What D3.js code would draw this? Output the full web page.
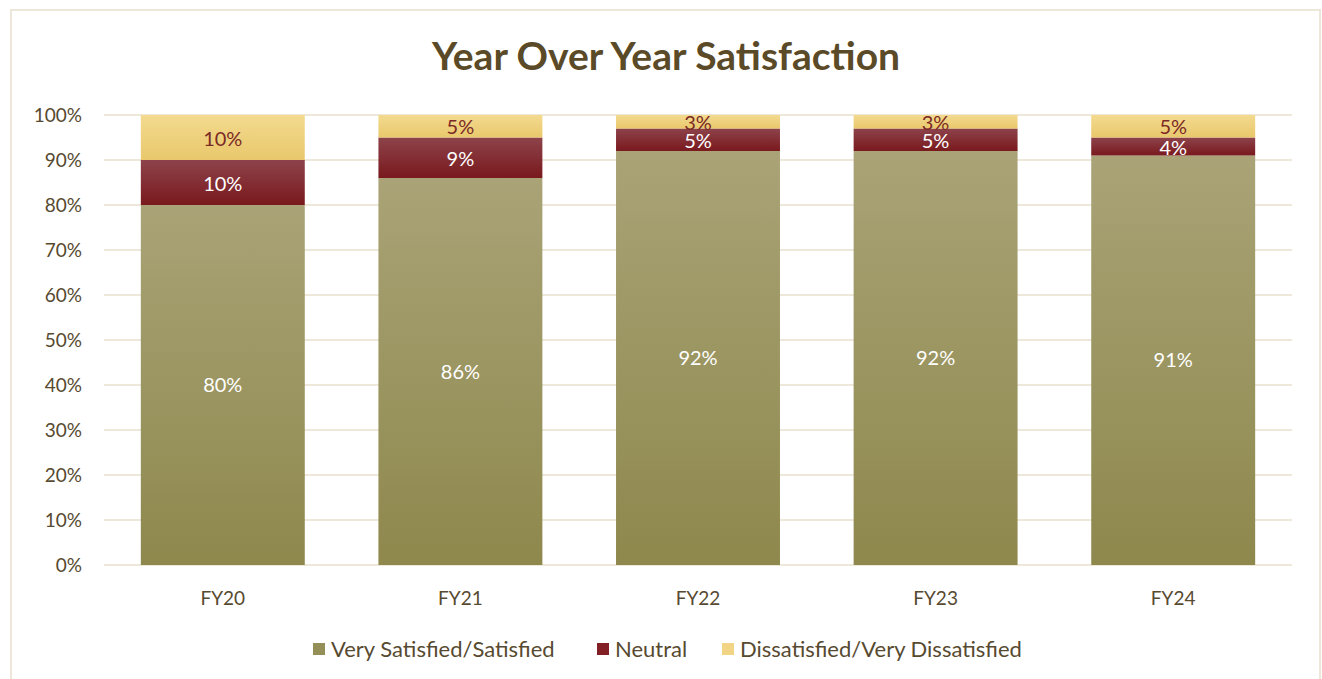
<!DOCTYPE html>
<html>
<head>
<meta charset="utf-8">
<script src="https://cdn.jsdelivr.net/npm/d3@7"></script>
<style>
  body { margin: 0; background: #fff; }
  svg text { font-family: Lato, "Open Sans", sans-serif; }
</style>
</head>
<body>
<div id="chart"></div>
<script>
const years = ["FY20", "FY21", "FY22", "FY23", "FY24"];
const satisfied = [80, 86, 92, 92, 91];
const neutral = [10, 9, 5, 5, 4];
const dissatisfied = [10, 5, 3, 3, 5];
const seriesNames = ["Very Satisfied/Satisfied", "Neutral", "Dissatisfied/Very Dissatisfied"];
const yTicks = [0, 10, 20, 30, 40, 50, 60, 70, 80, 90, 100];

const W = 1322, H = 679;
const margin = { top: 115, right: 30, bottom: 114, left: 104 };
const width = 1292 - margin.left;
const height = 565 - margin.top;

const svg = d3.select("#chart").append("svg")
  .attr("width", W)
  .attr("height", H);

// gradients
const defs = svg.append("defs");
function grad(id, top, bottom) {
  const g = defs.append("linearGradient").attr("id", id)
    .attr("x1", 0).attr("y1", 0).attr("x2", 0).attr("y2", 1);
  g.append("stop").attr("offset", "0%").attr("stop-color", top);
  g.append("stop").attr("offset", "100%").attr("stop-color", bottom);
}
grad("gSat", "#a9a377", "#8e884d");
grad("gNeu", "#8d434b", "#79191d");
grad("gDis", "#f3da8f", "#e9c86c");
const fills = ["url(#gSat)", "url(#gNeu)", "url(#gDis)"];
const swatch = ["#948e57", "#821f24", "#f1d585"];

// outer frame
svg.append("rect")
  .attr("x", 11).attr("y", 10)
  .attr("width", 1309).attr("height", 680)
  .attr("fill", "none")
  .attr("stroke", "#ede7d9")
  .attr("stroke-width", 2);

svg.append("text")
  .attr("x", 666).attr("y", 70)
  .attr("text-anchor", "middle")
  .style("font-size", "39px")
  .style("font-weight", "bold")
  .style("fill", "#5b4a27")
  .text("Year Over Year Satisfaction");

const g = svg.append("g")
  .attr("transform", "translate(" + margin.left + "," + margin.top + ")");

const x = d3.scaleBand()
  .domain(years)
  .range([0, width])
  .paddingInner(0.31)
  .paddingOuter(0.155);

const y = d3.scaleLinear()
  .domain([0, 100])
  .range([height, 0]);

// gridlines
g.append("g")
  .selectAll("line")
  .data(yTicks)
  .join("line")
  .attr("x1", 0).attr("x2", width)
  .attr("y1", d => y(d)).attr("y2", d => y(d))
  .attr("stroke", "#ede8da")
  .attr("stroke-width", 2);

// y tick labels
g.append("g")
  .selectAll("text")
  .data(yTicks)
  .join("text")
  .attr("x", -22)
  .attr("y", d => y(d))
  .attr("dy", "0.35em")
  .attr("text-anchor", "end")
  .style("font-size", "19px")
  .style("fill", "#574a30")
  .text(d => d + "%");

// stacked data
const rows = years.map((yr, i) => ({
  year: yr, s0: satisfied[i], s1: neutral[i], s2: dissatisfied[i]
}));
const stack = d3.stack().keys(["s0", "s1", "s2"]);
const layers = stack(rows);

const labelColors = ["#ffffff", "#ffffff", "#7b2a25"];

layers.forEach((layer, li) => {
  const lg = g.append("g");
  lg.selectAll("rect")
    .data(layer)
    .join("rect")
    .attr("x", d => x(d.data.year))
    .attr("width", x.bandwidth())
    .attr("y", d => y(d[1]))
    .attr("height", d => y(d[0]) - y(d[1]))
    .attr("fill", fills[li]);

  lg.selectAll("text")
    .data(layer)
    .join("text")
    .attr("x", d => x(d.data.year) + x.bandwidth() / 2)
    .attr("y", d => (y(d[0]) + y(d[1])) / 2 + (li === 0 ? 0 : 1))
    .attr("dy", "0.35em")
    .attr("text-anchor", "middle")
    .style("font-size", "20px")
    .style("fill", labelColors[li])
    .text(d => Math.round(d[1] - d[0]) + "%");
});

// x labels
g.append("g")
  .selectAll("text")
  .data(years)
  .join("text")
  .attr("x", d => x(d) + x.bandwidth() / 2)
  .attr("y", height + 33)
  .attr("dy", "0.35em")
  .attr("text-anchor", "middle")
  .style("font-size", "19px")
  .style("fill", "#574a30")
  .text(d => d);

// legend
const legendX = [313, 597, 722];
const legend = svg.append("g");
seriesNames.forEach((name, i) => {
  legend.append("rect")
    .attr("x", legendX[i]).attr("y", 643)
    .attr("width", 12).attr("height", 12)
    .attr("fill", swatch[i]);
  legend.append("text")
    .attr("x", legendX[i] + 18).attr("y", 649)
    .attr("dy", "0.35em")
    .style("font-size", "22px")
    .style("fill", "#574a30")
    .text(name);
});
</script>
</body>
</html>
